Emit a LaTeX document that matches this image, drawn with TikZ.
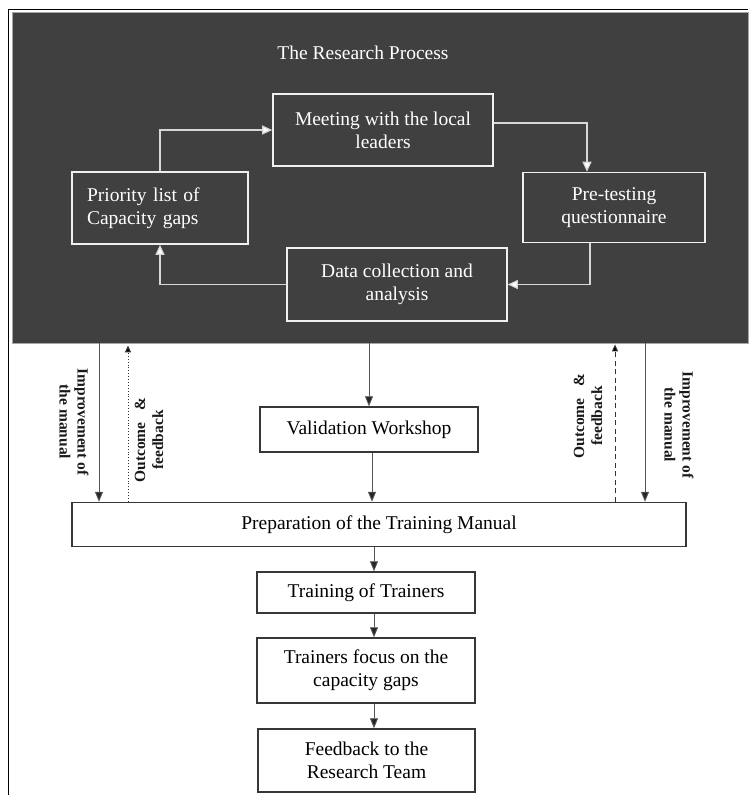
\documentclass[tikz,border=0pt]{standalone}
\usepackage{fontspec}
\setmainfont{Liberation Serif}
\usetikzlibrary{arrows.meta}
\definecolor{darkbg}{RGB}{64,64,64}
\definecolor{darkline}{RGB}{215,215,215}
\definecolor{boxline}{RGB}{55,55,55}
\definecolor{arrline}{RGB}{85,85,85}
\begin{document}
\begin{tikzpicture}[x=1pt,y=-1pt,
  every node/.style={font=\fontsize{19.5}{23}\selectfont},
  darkbox/.style={draw=white!88!gray, line width=1.6pt, fill=darkbg, text=white, align=center, inner sep=0pt},
  lightbox/.style={draw=boxline, line width=1.5pt, fill=white, text=black, align=center, inner sep=0pt},
  darr/.style={draw=darkline, line width=1.2pt, -{Triangle[length=10pt,width=9pt,fill=white]}},
  larr/.style={draw=arrline, line width=0.9pt, -{Triangle[length=10pt,width=8pt,fill=black!85]}},
  sideup/.style={draw=black!80, line width=0.9pt, -{Triangle[length=7pt,width=6pt,fill=black]}},
  sidelbl/.style={font=\fontsize{15.5}{18}\selectfont\bfseries, align=center, text=black!90, inner sep=0pt}
]
\useasboundingbox (0,0) rectangle (748,795);
\fill[white] (0,0) rectangle (748,795);
% outer frame
\coordinate (fbl) at (8,795);
\coordinate (ftl) at (8,9);
\coordinate (ftr) at (748,9);
\draw[black, line width=1pt] (fbl) -- (ftl) -- (ftr);
% dark research area
\node[draw=gray!70, line width=0.8pt, fill=darkbg, minimum width=736, minimum height=331, inner sep=0pt] (dark) at (380,177.5) {};
\node[text=white] (title) at (363,53) {The Research Process};
\node[darkbox, minimum width=220, minimum height=72] (meet) at (383,130) {Meeting with the local\\leaders};
\node[darkbox, text width=146, align=left, inner xsep=15pt, minimum height=72] (prio) at (160,208) {Priority list of\\Capacity gaps};
\node[darkbox, minimum width=182, minimum height=70] (pre) at (614,207.5) {Pre-testing\\questionnaire};
\node[darkbox, minimum width=220, minimum height=73] (data) at (397,284.5) {Data collection and\\analysis};
\draw[darr] (prio.north) |- (meet.west);
\draw[darr] ([yshift=7pt]meet.east) -| ([xshift=-27pt]pre.north);
\draw[darr] ([xshift=-24pt]pre.south) |- (data.east);
\draw[darr] (data.west) -| (prio.south);
% lower flow
\node[lightbox, minimum width=218, minimum height=45] (valid) at (369,429.5) {Validation Workshop};
\node[lightbox, minimum width=614, minimum height=44] (prep) at (379,524.5) {Preparation of the Training Manual};
\node[lightbox, minimum width=218, minimum height=41] (train) at (366,592.5) {Training of Trainers};
\node[lightbox, minimum width=218, minimum height=65] (focus) at (366,670.5) {Trainers focus on the\\capacity gaps};
\node[lightbox, minimum width=217, minimum height=63] (feed) at (366.5,760.5) {Feedback to the\\Research Team};
\coordinate (colx) at (374,0);
\coordinate (lx1) at (99,0);
\coordinate (lx2) at (128,0);
\coordinate (rx1) at (615,0);
\coordinate (rx2) at (645,0);
\draw[larr] (valid.north |- dark.south) -- (valid.north);
\draw[larr] ([xshift=3pt]valid.south) -- ([xshift=3pt]valid.south |- prep.north);
\draw[larr] (prep.south -| colx) -- (train.north -| colx);
\draw[larr] (train.south -| colx) -- (focus.north -| colx);
\draw[larr] (focus.south -| colx) -- (feed.north -| colx);
\draw[larr] (dark.south -| lx1) -- (prep.north -| lx1);
\draw[larr] (dark.south -| rx2) -- (prep.north -| rx2);
\draw[sideup, dotted, line width=1pt] (prep.north -| lx2) -- ([yshift=-2pt]dark.south -| lx2);
\draw[sideup, dash pattern=on 5pt off 3.5pt] (prep.north -| rx1) -- ([yshift=-1pt]dark.south -| rx1);
% side labels
\node[sidelbl, rotate=-90] (limp) at (74,422) {Improvement of\\the manual};
\node[sidelbl, rotate=90] (lout) at (149,440) {Outcome\hspace{12pt}\&\\feedback};
\node[sidelbl, rotate=90] (rout) at (588,416) {Outcome\hspace{12pt}\&\\feedback};
\node[sidelbl, rotate=-90] (rimp) at (679,425) {Improvement of\\the manual};
\end{tikzpicture}
\end{document}
